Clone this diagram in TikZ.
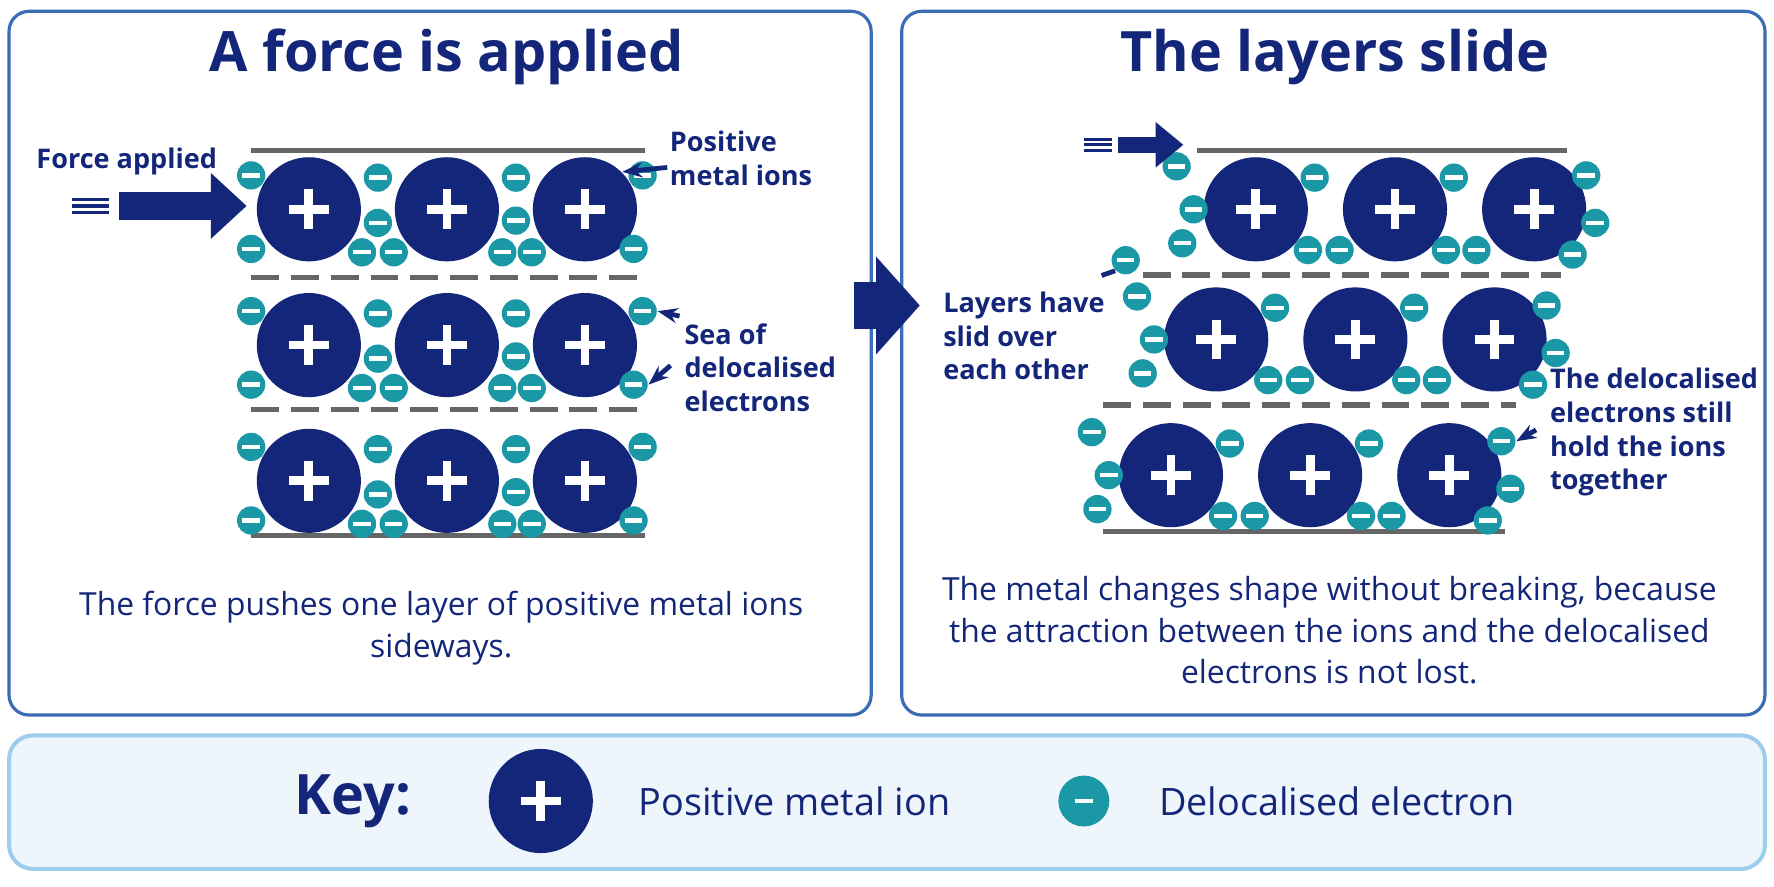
\documentclass[tikz,border=0pt]{standalone}
\usepackage{fontspec}
\setmainfont{Open Sans}
\usetikzlibrary{arrows.meta}
\definecolor{navy}{HTML}{14267A}
\definecolor{teal}{HTML}{1A98A6}
\definecolor{frame}{HTML}{3A6DB5}
\definecolor{keyfill}{HTML}{EEF6FC}
\definecolor{keyline}{HTML}{9CCDEB}
\begin{document}
\begin{tikzpicture}[x=0.01cm,y=-0.01cm,
    ion/.style={circle,fill=navy,minimum size=0.92cm,inner sep=0pt,
      path picture={\draw[white,line width=2.2pt] ([xshift=-5pt]path picture bounding box.center) -- ([xshift=5pt]path picture bounding box.center)
        ([yshift=-5pt]path picture bounding box.center) -- ([yshift=5pt]path picture bounding box.center);}},
    el/.style={circle,fill=teal,minimum size=0.25cm,inner sep=0pt,
      path picture={\draw[white,line width=1.1pt] ([xshift=-2.2pt]path picture bounding box.center) -- ([xshift=2.2pt]path picture bounding box.center);}},
    panel/.style={draw=frame,line width=0.8pt,rounded corners=5pt,fill=white},
    title/.style={text=navy,font=\fontsize{14}{14}\bfseries\selectfont},
    lbl/.style={text=navy,font=\fontsize{6.8}{8.5}\bfseries\selectfont,align=left},
    body/.style={text=navy,font=\fontsize{8}{10.5}\selectfont,align=center},
    solid line/.style={draw=gray!80!black,line width=1.3pt},
    dash line/.style={draw=gray!80!black,line width=1.3pt,dash pattern=on 7pt off 3pt},
    push/.style={-{Triangle[length=9pt,width=16pt]},navy,line width=7pt},
    ptr/.style={-{Stealth[length=5pt]},navy,line width=1.2pt}]
\useasboundingbox (0,0) rectangle (1568,784);
\fill[white] (0,0) rectangle (1568,784);

% panels
\draw[panel] (8,10) rectangle (770,632);
\draw[panel] (797,10) rectangle (1560,632);
\draw[draw=keyline,fill=keyfill,line width=1pt,rounded corners=6pt] (8,650) rectangle (1560,768);

\node[title] (t1) at (395,50) {A force is applied};
\node[title] (t2) at (1180,50) {The layers slide};

% left lattice
\draw[solid line] (222,133) -- (570,133);
\draw[dash line] (222,245) -- (570,245);
\draw[dash line] (222,362) -- (570,362);
\draw[solid line] (222,473) -- (570,473);
\foreach \r/\y in {1/185,2/305,3/425}{
  \foreach \c/\x in {1/273,2/395,3/517}
    \node[ion] (a\r\c) at (\x,\y) {};
  \foreach \dx/\dy [count=\k] in {222/35,222/-30,334/-28,320/38,348/38,334/12,456/-28,444/38,470/38,456/10,568/-30,560/35}
    \node[el] (ae\r\k) at (\dx,\y+\dy) {};
}
% force arrow
\coordinate (fs) at (105,182);
\draw[push] (fs) -- (218,182);
\foreach \y in {176,182,188}
  \draw[navy,line width=0.8pt] (64,\y) -- (96,\y);
\node[lbl] (flab) at (112,143) {Force applied};
\node[lbl] (pmi) at (655,140) {Positive\\metal ions};
\draw[ptr] (pmi.west) ++(10,8) -- (a13.north east);
\node[lbl] (sea) at (672,325) {Sea of\\delocalised\\electrons};
\draw[ptr] (sea.north west) ++(8,6) -- (ae211.east);
\draw[ptr] (sea.west) ++(0,-2) -- (ae212.east);
\node[body] (c1) at (390,555) {The force pushes one layer of positive metal ions\\sideways.};

% middle arrow
\coordinate (ms) at (755,270);
\draw[-{Triangle[length=11pt,width=24pt]},navy,line width=12pt] (ms) -- (813,270);

% right lattice
\draw[solid line] (1058,133) -- (1385,133);
\draw[dash line] (1010,243) -- (1380,243);
\draw[dash line] (975,358) -- (1340,358);
\draw[solid line] (975,470) -- (1330,470);
\foreach \r/\y/\s in {1/185/1110,2/300/1075,3/420/1035}{
  \foreach \c [count=\j] in {0,123,246}
    \node[ion] (b\r\j) at (\s+\c,\y) {};
  \foreach \dx/\dy [count=\k] in {-70/-38,-65/30,-55/0,52/-28,46/36,74/36,175/-28,168/36,195/36,292/-30,300/12,280/40}
    \node[el] (be\r\k) at (\s+\dx,\y+\dy) {};
}
\node[el] (lone) at (995,230) {};
\coordinate (fs2) at (988,128);
\draw[-{Triangle[length=7pt,width=11pt]},navy,line width=4pt] (fs2) -- (1046,128);
\foreach \y in {123,128,133}
  \draw[navy,line width=0.7pt] (958,\y) -- (983,\y);
\node[lbl] (slid) at (905,297) {Layers have\\slid over\\each other};
\draw[navy,line width=1.2pt] (slid.north east) ++(-15,-2) -- (lone.south west);
\node[lbl] (hold) at (1462,382) {The delocalised\\electrons still\\hold the ions\\together};
\draw[ptr] (hold.west) ++(0,-2) -- (be310.east);
\node[body] (c2) at (1175,557) {The metal changes shape without breaking, because\\the attraction between the ions and the delocalised\\electrons is not lost.};

% key
\node[text=navy,font=\fontsize{14}{14}\bfseries\selectfont] (key) at (312,708) {Key:};
\node[ion] (kion) at (478,708) {};
\node[body,anchor=west] (kt1) at (552,708) {\fontsize{9.5}{10}\selectfont Positive metal ion};
\node[el,minimum size=0.45cm] (kel) at (958,708) {};
\node[body,anchor=west] (kt2) at (1012,708) {\fontsize{9.5}{10}\selectfont Delocalised electron};
\end{tikzpicture}
\end{document}
